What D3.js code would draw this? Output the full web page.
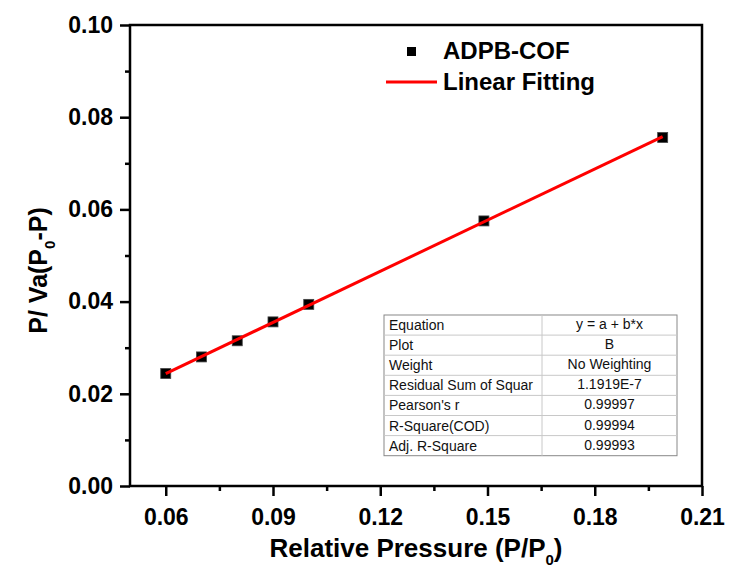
<!DOCTYPE html>
<html>
<head>
<meta charset="utf-8">
<script src="https://cdn.jsdelivr.net/npm/d3@7"></script>
<style>
    body { margin: 0; background: #fff; }
    svg { display: block; font-family: "Liberation Sans", Arial, sans-serif; }
    .axis path, .axis line { stroke: #000; stroke-width: 2.5; }
    .axis text { font-size: 23px; font-weight: bold; fill: #000; }
    .tbl text { font-size: 14px; fill: #111; }
</style>
</head>
<body>
<div id="chart"></div>
<script>
// data
const pressure = [0.06, 0.07, 0.08, 0.09, 0.10, 0.149, 0.199];
const bet = [0.0244, 0.0280, 0.0315, 0.0356, 0.0394, 0.0575, 0.0756];

const xTicks = [0.06, 0.09, 0.12, 0.15, 0.18, 0.21];
const xMinor = [0.075, 0.105, 0.135, 0.165, 0.195];
const yTicks = [0.00, 0.02, 0.04, 0.06, 0.08, 0.10];
const yMinor = [0.01, 0.03, 0.05, 0.07, 0.09];

const tableLabels = ['Equation', 'Plot', 'Weight', 'Residual Sum of Squar', "Pearson's r", 'R-Square(COD)', 'Adj. R-Square'];
const tableValues = ['y = a + b*x', 'B', 'No Weighting', '1.1919E-7', '0.99997', '0.99994', '0.99993'];

const W = 729, H = 574;
const margin = { top: 25, right: 27, bottom: 88, left: 130 };
const innerW = W - margin.left - margin.right;
const innerH = H - margin.top - margin.bottom;

const svg = d3.select('#chart').append('svg').attr('width', W).attr('height', H);
const g = svg.append('g').attr('transform', 'translate(' + margin.left + ',' + margin.top + ')');

const x = d3.scaleLinear().domain([0.05, 0.21]).range([0, innerW]);
const y = d3.scaleLinear().domain([0, 0.10]).range([innerH, 0]);

// frame
g.append('rect')
    .attr('width', innerW).attr('height', innerH)
    .attr('fill', 'none').attr('stroke', '#000').attr('stroke-width', 2.5);

// axes, major then minor
g.append('g').attr('class', 'axis')
    .attr('transform', 'translate(0,' + innerH + ')')
    .call(d3.axisBottom(x).tickValues(xTicks).tickSize(10).tickPadding(13).tickFormat(d3.format('.2f')));
g.append('g').attr('class', 'axis')
    .attr('transform', 'translate(0,' + innerH + ')')
    .call(d3.axisBottom(x).tickValues(xMinor).tickSize(5).tickFormat(''));
g.append('g').attr('class', 'axis')
    .call(d3.axisLeft(y).tickValues(yTicks).tickSize(10).tickPadding(7).tickFormat(d3.format('.2f')));
g.append('g').attr('class', 'axis')
    .call(d3.axisLeft(y).tickValues(yMinor).tickSize(5).tickFormat(''));
g.selectAll('.axis .domain').remove();

// axis titles
const xt = svg.append('text')
    .attr('x', margin.left + innerW / 2).attr('y', 557)
    .attr('text-anchor', 'middle')
    .style('font-size', '26px').style('font-weight', 'bold');
xt.append('tspan').text('Relative Pressure (P/P');
xt.append('tspan').attr('dy', 8).style('font-size', '15px').text('0');
xt.append('tspan').attr('dy', -8).text(')');

const yt = svg.append('text')
    .attr('transform', 'translate(47,' + (margin.top + innerH / 2 + 15) + ') rotate(-90)')
    .attr('text-anchor', 'middle')
    .style('font-size', '25px').style('font-weight', 'bold');
yt.append('tspan').text('P/ Va(P');
yt.append('tspan').attr('dy', 8).style('font-size', '15px').text('0');
yt.append('tspan').attr('dy', -8).text('-P)');

// linear fit (least squares over the points)
const mx = d3.mean(pressure), my = d3.mean(bet);
const b = d3.sum(pressure, (d, i) => (d - mx) * (bet[i] - my)) / d3.sum(pressure, d => (d - mx) * (d - mx));
const a = my - b * mx;
const xr = d3.extent(pressure);

// points
g.selectAll('rect.pt')
    .data(pressure)
    .join('rect')
        .attr('class', 'pt')
        .attr('x', d => x(d) - 5)
        .attr('y', (d, i) => y(bet[i]) - 5)
        .attr('width', 10).attr('height', 10)
        .attr('fill', '#000').attr('stroke', '#444').attr('stroke-width', 0.8);

// fit line over the points, like Origin does
g.append('line')
    .attr('x1', x(xr[0])).attr('y1', y(a + b * xr[0]))
    .attr('x2', x(xr[1])).attr('y2', y(a + b * xr[1]))
    .attr('stroke', '#ff0000').attr('stroke-width', 3);

// legend
const leg = svg.append('g');
leg.append('rect').attr('x', 407).attr('y', 47).attr('width', 9).attr('height', 9).attr('fill', '#000');
leg.append('text').attr('x', 443).attr('y', 59).text('ADPB-COF')
    .style('font-size', '24px').style('font-weight', 'bold');
leg.append('line').attr('x1', 386).attr('x2', 437).attr('y1', 82).attr('y2', 82)
    .attr('stroke', '#ff0000').attr('stroke-width', 3);
leg.append('text').attr('x', 443).attr('y', 90).text('Linear Fitting')
    .style('font-size', '24px').style('font-weight', 'bold');

// stats table
const tx = 384, ty = 315, rowH = 20.1, col1 = 158, col2 = 135;
const tbl = svg.append('g').attr('class', 'tbl');
tbl.append('rect').attr('x', tx).attr('y', ty).attr('width', col1 + col2).attr('height', rowH * tableLabels.length)
    .attr('fill', '#fff').attr('stroke', '#888').attr('stroke-width', 1);
tbl.selectAll('line.row')
    .data(d3.range(1, tableLabels.length))
    .join('line')
        .attr('class', 'row')
        .attr('x1', tx).attr('x2', tx + col1 + col2)
        .attr('y1', d => ty + d * rowH).attr('y2', d => ty + d * rowH)
        .attr('stroke', '#c8c8c8');
tbl.append('line').attr('x1', tx + col1).attr('x2', tx + col1).attr('y1', ty).attr('y2', ty + rowH * tableLabels.length)
    .attr('stroke', '#c8c8c8');
tbl.selectAll('text.lab')
    .data(tableLabels)
    .join('text')
        .attr('class', 'lab')
        .attr('x', tx + 5).attr('y', (d, i) => ty + i * rowH + 15)
        .text(d => d);
tbl.selectAll('text.val')
    .data(tableValues)
    .join('text')
        .attr('class', 'val')
        .attr('text-anchor', 'middle')
        .attr('x', tx + col1 + col2 / 2).attr('y', (d, i) => ty + i * rowH + 14)
        .text(d => d);
</script>
</body>
</html>
